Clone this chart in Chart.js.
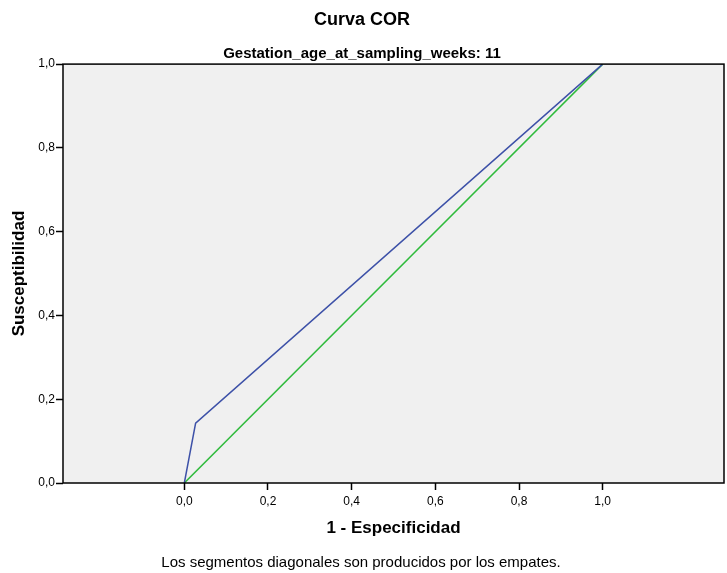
<!DOCTYPE html>
<html>
<head>
<meta charset="utf-8">
<script src="https://cdn.jsdelivr.net/npm/chart.js@4.4.1/dist/chart.umd.min.js"></script>
<style>
  html, body { margin: 0; padding: 0; background: #ffffff; }
  #wrap { width: 727px; height: 573px; }
</style>
</head>
<body>
<div id="wrap"><canvas id="roc" width="727" height="573"></canvas></div>
<script>
// ROC curve points (1 - specificity, sensitivity)
const rocX = [0, 0.027, 1];
const rocY = [0, 0.143, 1];
// reference diagonal
const refX = [0, 1];
const refY = [0, 1];
// tick labels shown on both axes
const tickValues = [0, 0.2, 0.4, 0.6, 0.8, 1.0];

const toPoints = (xs, ys) => xs.map((x, i) => ({ x: x, y: ys[i] }));
const fmt = (v) => v.toFixed(1).replace(".", ",");
const FONT = "Arial, 'Liberation Sans', sans-serif";

//paint plot background and the box around it
const plotBox = {
  id: "plotBox",
  beforeDraw(chart) {
    const { ctx, chartArea: a } = chart;
    ctx.save();
    ctx.fillStyle = "#f0f0f0";
    ctx.fillRect(a.left, a.top, a.right - a.left, a.bottom - a.top);
    ctx.restore();
  },
  afterDraw(chart) {
    const { ctx, chartArea: a } = chart;
    ctx.save();
    ctx.strokeStyle = "#000000";
    ctx.lineWidth = 1.5;
    ctx.strokeRect(a.left, a.top, a.right - a.left, a.bottom - a.top);
    //footnote under the chart
    ctx.fillStyle = "#000000";
    ctx.font = "15px " + FONT;
    ctx.textAlign = "center";
    ctx.textBaseline = "middle";
    ctx.fillText("Los segmentos diagonales son producidos por los empates.", 361, 563);
    ctx.restore();
  },
};

const tickStyle = {
  drawOnChartArea: false,
  drawTicks: true,
  tickLength: 7,
  tickWidth: 1.5,
  tickColor: "#000000",
};

new Chart(document.getElementById("roc"), {
  type: "scatter",
  plugins: [plotBox],
  data: {
    datasets: [
      {
        data: toPoints(rocX, rocY),
        showLine: true,
        borderColor: "#3d51a8",
        borderWidth: 1.5,
        pointRadius: 0,
        tension: 0,
      },
      {
        data: toPoints(refX, refY),
        showLine: true,
        borderColor: "#2fbb3c",
        borderWidth: 1.5,
        pointRadius: 0,
        tension: 0,
      },
    ],
  },
  options: {
    responsive: false,
    animation: false,
    layout: { padding: { left: 0, right: 3, top: 0, bottom: 30 } },
    plugins: {
      legend: { display: false },
      tooltip: { enabled: false },
      title: {
        display: true,
        text: "Curva COR",
        color: "#000000",
        font: { family: FONT, size: 18, weight: "bold" },
        padding: { top: 9, bottom: 6 },
      },
      subtitle: {
        display: true,
        text: "Gestation_age_at_sampling_weeks: 11",
        color: "#000000",
        font: { family: FONT, size: 15, weight: "bold" },
        padding: { top: 8, bottom: 1.5 },
      },
    },
    scales: {
      x: {
        type: "linear",
        min: -0.29,
        max: 1.29,
        afterBuildTicks: (s) => { s.ticks = tickValues.map((v) => ({ value: v })); },
        afterFit: (s) => { s.height = 60; },
        grid: tickStyle,
        border: { display: false },
        ticks: {
          color: "#000000",
          padding: 4,
          font: { family: FONT, size: 12 },
          callback: (v) => fmt(v),
        },
        title: {
          display: true,
          text: "1 - Especificidad",
          color: "#000000",
          font: { family: FONT, size: 17, weight: "bold" },
          padding: { top: 0, bottom: 4.5 },
        },
      },
      y: {
        type: "linear",
        min: 0,
        max: 1,
        afterBuildTicks: (s) => { s.ticks = tickValues.map((v) => ({ value: v })); },
        afterFit: (s) => { s.width = 63; },
        grid: tickStyle,
        border: { display: false },
        ticks: {
          color: "#000000",
          padding: 1,
          font: { family: FONT, size: 12 },
          callback: (v) => fmt(v),
        },
        title: {
          display: true,
          text: "Susceptibilidad",
          color: "#000000",
          font: { family: FONT, size: 17, weight: "bold" },
          padding: { top: 9, bottom: 0 },
        },
      },
    },
  },
});
</script>
</body>
</html>
